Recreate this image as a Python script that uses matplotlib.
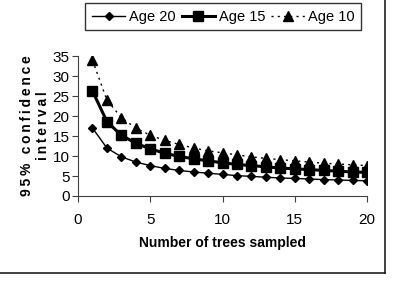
import matplotlib
matplotlib.use("Agg")
import matplotlib.pyplot as plt
from matplotlib.lines import Line2D

plt.rcParams['font.family'] = ['Liberation Sans', 'DejaVu Sans']

trees = list(range(1, 21))
age20 = [17.0, 12.0, 9.8, 8.5, 7.6, 6.9, 6.4, 6.0, 5.7, 5.4,
         5.1, 4.9, 4.7, 4.5, 4.4, 4.25, 4.1, 4.0, 3.9, 3.8]
age15 = [26.3, 18.6, 15.2, 13.2, 11.8, 10.7, 9.9, 9.3, 8.8, 8.3,
         7.9, 7.6, 7.3, 7.0, 6.8, 6.6, 6.4, 6.2, 6.0, 5.9]
age10 = [34.0, 24.0, 19.6, 17.0, 15.2, 13.9, 12.9, 12.0, 11.3, 10.8,
         10.3, 9.8, 9.4, 9.1, 8.8, 8.5, 8.2, 8.0, 7.8, 7.6]

fig = plt.figure(figsize=(3.96, 2.82), dpi=100)
ax = fig.add_axes([0.197, 0.305, 0.73, 0.496])

ax.plot(trees, age20, color='black', lw=1.0, marker='D', ms=4.5, label='Age 20')
ax.plot(trees, age15, color='black', lw=2.2, marker='s', ms=6.5, label='Age 15')
ax.plot(trees, age10, color='black', lw=1.0, ls=(0, (1.5, 3)), marker='^', ms=6.5, label='Age 10')

ax.set_xlim(0, 20)
ax.set_ylim(0, 35)
ax.set_xticks([0, 5, 10, 15, 20])
ax.set_yticks(range(0, 36, 5))
for s in ['top', 'right']:
    ax.spines[s].set_visible(False)
for s in ['left', 'bottom']:
    ax.spines[s].set_color('#404040')
ax.tick_params(direction='out', length=4, color='#404040', labelsize=11, pad=2)
ax.tick_params(axis='x', pad=8)

sp = '\u2009'
ax.set_xlabel('Number of trees sampled', fontsize=10, fontweight='bold', labelpad=7)
ax.set_ylabel(sp.join('95% confidence') + '\n' + sp.join('interval'), fontsize=10,
              fontweight='bold', labelpad=2, linespacing=1.15)

fig.legend(loc='upper center', bbox_to_anchor=(0.564, 1.015), ncol=3, frameon=True,
           fancybox=False, edgecolor='black', fontsize=10.5, handlelength=2.3,
           handletextpad=0.25, columnspacing=0.4, borderpad=0.45)

# outer frame of the chart area
fig.add_artist(Line2D([0.972, 0.972], [0.032, 1.0], color='#202020', lw=1.2, transform=fig.transFigure))
fig.add_artist(Line2D([0.0, 0.972], [0.032, 0.032], color='#202020', lw=1.2, transform=fig.transFigure))

fig.savefig('out.png', dpi=100)
